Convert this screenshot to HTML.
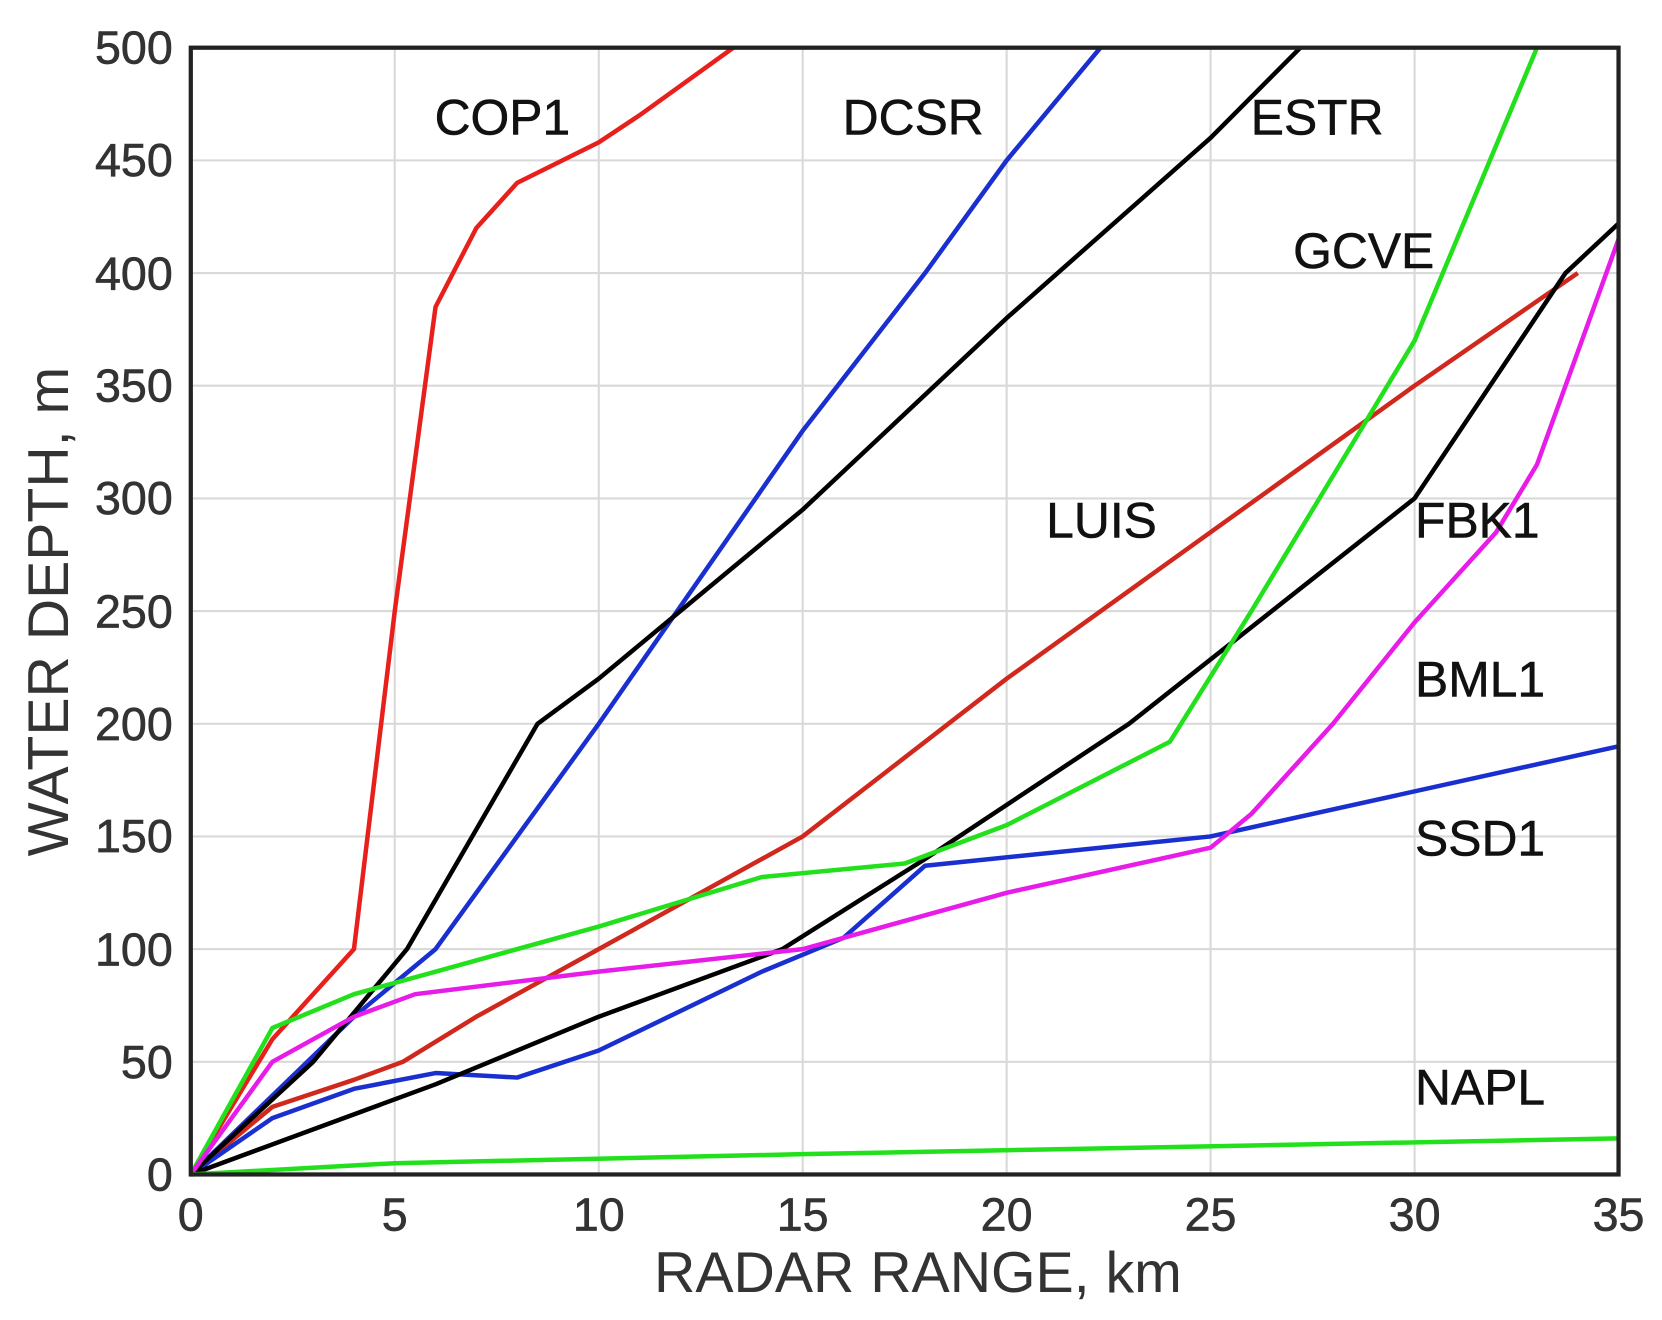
<!DOCTYPE html>
<html><head><style>html,body{margin:0;padding:0;background:#fff}svg{display:block}</style></head>
<body>
<svg width="1662" height="1320" viewBox="0 0 1568 1245.3" preserveAspectRatio="none" xmlns="http://www.w3.org/2000/svg" font-family="Liberation Sans, sans-serif">
<g stroke="#d9d9d9" stroke-width="2">
<line x1="372.4" y1="45" x2="372.4" y2="1108"/><line x1="564.9" y1="45" x2="564.9" y2="1108"/><line x1="757.3" y1="45" x2="757.3" y2="1108"/><line x1="949.7" y1="45" x2="949.7" y2="1108"/><line x1="1142.1" y1="45" x2="1142.1" y2="1108"/><line x1="1334.6" y1="45" x2="1334.6" y2="1108"/>
<line x1="180" y1="1001.7" x2="1527" y2="1001.7"/><line x1="180" y1="895.4" x2="1527" y2="895.4"/><line x1="180" y1="789.1" x2="1527" y2="789.1"/><line x1="180" y1="682.8" x2="1527" y2="682.8"/><line x1="180" y1="576.5" x2="1527" y2="576.5"/><line x1="180" y1="470.2" x2="1527" y2="470.2"/><line x1="180" y1="363.9" x2="1527" y2="363.9"/><line x1="180" y1="257.6" x2="1527" y2="257.6"/><line x1="180" y1="151.3" x2="1527" y2="151.3"/>
</g>
<g transform="translate(180,1108) scale(38.486,-2.126)" fill="none" stroke-width="4.5" stroke-linejoin="round">
<polyline vector-effect="non-scaling-stroke" stroke="#e8201c" points="0,0 2,60 4,100 5,250 6,385 7,420 8,440 10,458 11,470 13.3,500"/>
<polyline vector-effect="non-scaling-stroke" stroke="#d0281c" points="0,0 2,30 4,42 5.2,50 7,70 10,100 15,150 20,220 25,285 30,350 34,400"/>
<polyline vector-effect="non-scaling-stroke" stroke="#1a2fd0" points="0,0 2,35 4,70 6,100 8,150 10,200 15,330 18,400 20,450 22.3,500"/>
<polyline vector-effect="non-scaling-stroke" stroke="#1a2fd0" points="0,0 2,25 4,38 6,45 8,43 10,55 14,90 16,105 18,137 25,150 35,190"/>
<polyline vector-effect="non-scaling-stroke" stroke="#000" points="0,0 3,50 5.3,100 8.5,200 10,220 15,295 20,380 25,460 27.2,500"/>
<polyline vector-effect="non-scaling-stroke" stroke="#000" points="0,0 3,20 6,40 10,70 14.5,100 18,140 23,200 30,300 33.7,400 35,422"/>
<polyline vector-effect="non-scaling-stroke" stroke="#22e01c" points="0,0 2,65 4,80 6,90 10,110 14,132 17.5,138 20,155 24,192 26,250 28,310 30,370 33,500"/>
<polyline vector-effect="non-scaling-stroke" stroke="#e81ce8" points="0,0 2,50 4,70 5.5,80 10,90 15,100 20,125 25,145 26,160 28,200 30,245 32,285 33,315 35,415"/>
<polyline vector-effect="non-scaling-stroke" stroke="#22e01c" points="0,0 5,5 15,9 35,16"/>
</g>
<rect x="180" y="45" width="1347" height="1063" fill="none" stroke="#222" stroke-width="4"/>
<g fill="#333" stroke="#333" stroke-width="0.6" font-size="44" text-anchor="end">
<text x="163" y="1123">0</text><text x="163" y="1017">50</text><text x="163" y="911">100</text><text x="163" y="804">150</text><text x="163" y="698">200</text><text x="163" y="592">250</text><text x="163" y="485">300</text><text x="163" y="379">350</text><text x="163" y="273">400</text><text x="163" y="166">450</text><text x="163" y="60">500</text>
</g>
<g fill="#333" font-size="44" text-anchor="middle">
<g stroke="#333" stroke-width="0.6">
<text x="180" y="1161">0</text><text x="372.4" y="1161">5</text><text x="564.9" y="1161">10</text><text x="757.3" y="1161">15</text><text x="949.7" y="1161">20</text><text x="1142.1" y="1161">25</text><text x="1334.6" y="1161">30</text><text x="1527" y="1161">35</text>
</g>
<text x="866" y="1219" font-size="54">RADAR RANGE, km</text>
<text transform="translate(64,577) rotate(-90)" font-size="54">WATER DEPTH, m</text>
</g>
<g fill="#111" stroke="#111" stroke-width="0.5" font-size="47">
<text x="410" y="127">COP1</text><text x="795" y="127">DCSR</text><text x="1180" y="127">ESTR</text><text x="1220" y="253">GCVE</text><text x="987" y="507">LUIS</text><text x="1335" y="507">FBK1</text><text x="1335" y="657">BML1</text><text x="1335" y="807">SSD1</text><text x="1335" y="1042">NAPL</text>
</g>
</svg>
</body></html>
